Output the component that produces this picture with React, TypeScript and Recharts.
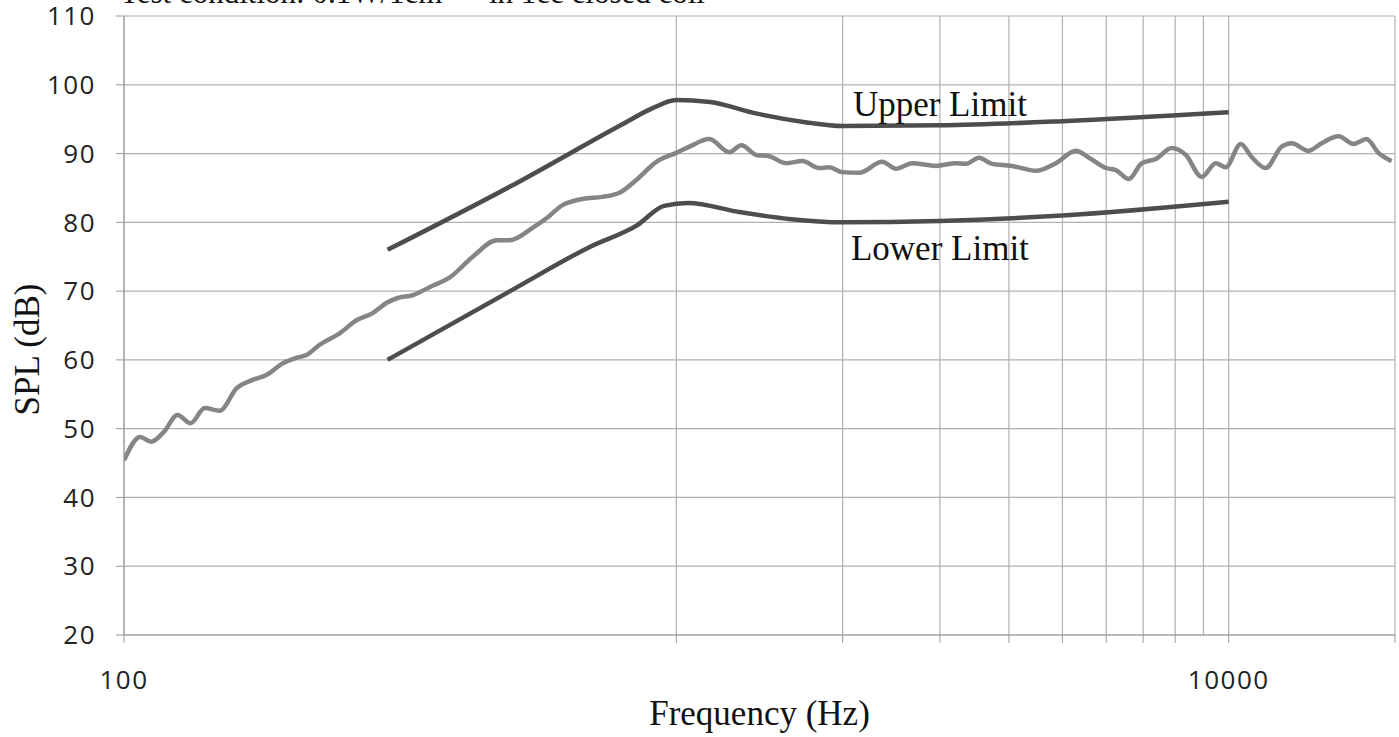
import React from 'react';
import { LineChart, Line, XAxis, YAxis, CartesianGrid, ReferenceDot } from 'recharts';

const xTicks = [100, 1000, 2000, 3000, 4000, 5000, 6000, 7000, 8000, 9000, 10000, 20000];
const xLabels = [100, 10000];
const yTicks = [20, 30, 40, 50, 60, 70, 80, 90, 100, 110];

const measuredFreq = [
  100, 107, 112, 118, 125, 132, 140, 149, 160, 171, 181, 194, 205, 214, 226, 246, 264, 282, 299, 313,
  333, 358, 389, 428, 473, 499, 549, 582, 622, 676, 735, 789, 847, 920, 1000, 1056, 1147, 1247, 1311,
  1395, 1473, 1581, 1690, 1814, 1891, 1996, 2143, 2358, 2499, 2672, 2952, 3208, 3345, 3531, 3727, 4052,
  4313, 4477, 4867, 5289, 5584, 5993, 6247, 6594, 6962, 7379, 7887, 8359, 8939, 9474, 9876, 10513,
  11005, 11667, 12470, 13000, 13950, 14730, 15810, 16830, 17760, 18670, 19720,
];
const measuredSpl = [
  45.4, 48.8, 48.1, 49.5, 52.0, 50.8, 53.0, 52.6, 55.9, 57.1, 57.8, 59.5, 60.3, 60.7, 62.2, 63.9, 65.8, 66.8, 68.3, 69.0,
  69.4, 70.6, 72.0, 75.0, 77.4, 77.4, 79.2, 80.6, 82.5, 83.4, 83.7, 84.3, 86.2, 88.8, 90.1, 91.0, 92.1, 90.2, 91.2,
  89.8, 89.6, 88.6, 88.9, 87.9, 88.0, 87.3, 87.2, 88.8, 87.8, 88.6, 88.2, 88.6, 88.5, 89.4, 88.5, 88.2,
  87.7, 87.5, 88.6, 90.4, 89.4, 87.9, 87.6, 86.3, 88.6, 89.2, 90.8, 89.8, 86.6, 88.6, 88.0, 91.4,
  89.5, 87.9, 91.0, 91.5, 90.4, 91.5, 92.5, 91.4, 92.1, 90.1, 88.9,
];

const upperFreq = [300, 500, 800, 900, 1000, 1150, 1400, 1700, 2000, 3000, 5000, 10000];
const upperSpl = [76, 85.2, 94.3, 96.5, 97.8, 97.5, 95.8, 94.6, 94.0, 94.1, 94.7, 96.0];

const lowerFreq = [300, 500, 700, 850, 950, 1050, 1300, 1600, 2000, 3000, 5000, 10000];
const lowerSpl = [60, 70, 76.5, 79.6, 82.4, 82.8, 81.5, 80.5, 80.0, 80.2, 81.0, 83.0];

const toPoints = (freq: number[], spl: number[]) => freq.map((f, i) => ({ f, v: spl[i] }));

const measured = toPoints(measuredFreq, measuredSpl);
const upper = toPoints(upperFreq, upperSpl);
const lower = toPoints(lowerFreq, lowerSpl);

const serif = '"Liberation Serif", "Times New Roman", serif';
const sans = '"Open Sans", "Noto Sans", sans-serif';

// rotated y title, nudged a bit below the plot's middle like the original
const YTitle = (props: any) => {
  const vb = props.viewBox || { x: 0, y: 0, width: 0, height: 0 };
  const cx = 27;
  const cy = vb.y + vb.height / 2 + 24;
  return (
    <text
      x={cx}
      y={cy}
      transform={`rotate(-90, ${cx}, ${cy})`}
      textAnchor="middle"
      dominantBaseline="central"
      fill="#111"
      fontSize={35}
      fontFamily={serif}
    >
      SPL (dB)
    </text>
  );
};

export default function App() {
  return (
    <div style={{ position: 'absolute', left: 0, top: 0, width: 1399, height: 737, background: '#fff', overflow: 'hidden' }}>
      <div
        style={{
          position: 'absolute',
          left: 120,
          top: -25,
          fontFamily: serif,
          fontSize: 31,
          color: '#111',
          whiteSpace: 'nowrap',
        }}
      >
        Test condition: 0.1W/1cm — in 1cc closed coil
      </div>
      <LineChart width={1399} height={737} margin={{ top: 16, right: 4, left: 0, bottom: 0 }}>
        <CartesianGrid stroke="#b0b0b0" strokeWidth={1.2} />
        <XAxis
          dataKey="f"
          type="number"
          scale="log"
          domain={[100, 20000]}
          ticks={xTicks}
          allowDataOverflow
          height={102}
          tickSize={8}
          tickMargin={28}
          stroke="#999"
          tick={{ fill: '#222', fontSize: 26, fontFamily: sans, letterSpacing: 1.5 }}
          tickFormatter={(t: number) => (xLabels.includes(t) ? String(t) : '')}
          label={{ value: 'Frequency (Hz)', position: 'insideBottom', offset: 12, fill: '#111', fontSize: 35, fontFamily: serif }}
        />
        <YAxis
          dataKey="v"
          type="number"
          domain={[20, 110]}
          ticks={yTicks}
          width={124}
          tickSize={8}
          tickMargin={20}
          stroke="#999"
          tick={{ fill: '#222', fontSize: 26, fontFamily: sans, letterSpacing: 1.5 }}
          label={{ content: YTitle }}
        />
        <Line data={upper} dataKey="v" type="monotone" stroke="#4d4d4d" strokeWidth={4.5} dot={false} isAnimationActive={false} />
        <Line data={lower} dataKey="v" type="monotone" stroke="#4d4d4d" strokeWidth={4.5} dot={false} isAnimationActive={false} />
        <Line data={measured} dataKey="v" type="monotone" stroke="#858585" strokeWidth={4.5} dot={false} isAnimationActive={false} />
        <ReferenceDot
          x={3000}
          y={97.3}
          r={0}
          fill="none"
          stroke="none"
          label={{ value: 'Upper Limit', position: 'center', fill: '#111', fontSize: 35, fontFamily: serif }}
        />
        <ReferenceDot
          x={3000}
          y={76.3}
          r={0}
          fill="none"
          stroke="none"
          label={{ value: 'Lower Limit', position: 'center', fill: '#111', fontSize: 35, fontFamily: serif }}
        />
      </LineChart>
    </div>
  );
}
